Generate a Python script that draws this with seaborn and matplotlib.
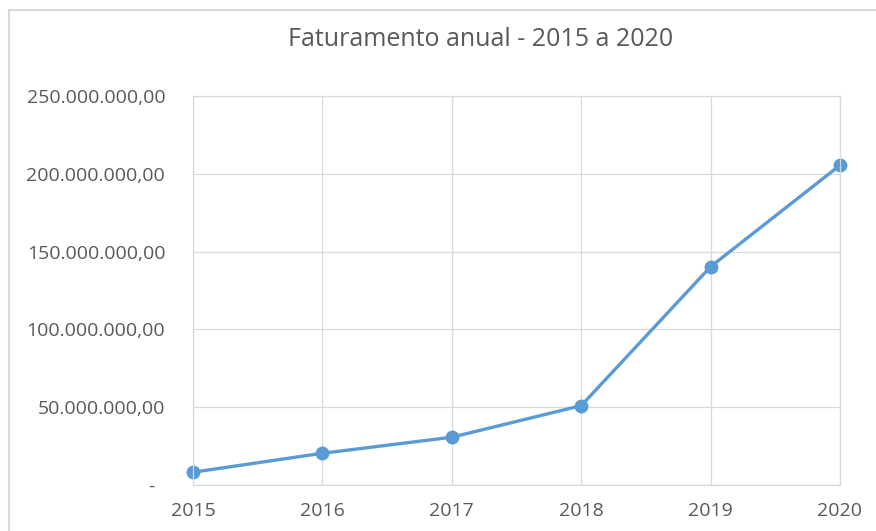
import seaborn as sns
import matplotlib.pyplot as plt
import pandas as pd
from matplotlib.patches import Rectangle
from matplotlib.ticker import FuncFormatter

# dados
anos = [2015, 2016, 2017, 2018, 2019, 2020]
faturamento = [8200000, 20400000, 30700000, 51000000, 140300000, 205500000]
y_ticks = [0, 50000000, 100000000, 150000000, 200000000, 250000000]

df = pd.DataFrame({'ano': anos, 'faturamento': faturamento})

sns.set_style('white')
plt.rcParams['font.family'] = ['Open Sans', 'DejaVu Sans']

cinza = '#595959'
grade = '#d9d9d9'
azul = '#5b9bd5'

fig = plt.figure(figsize=(8.76, 5.31), dpi=100)
ax = fig.add_axes([193 / 876, 1 - 485 / 531, (840 - 193) / 876, (485 - 96) / 531])

# moldura do grafico (estilo Excel)
fig.patches.append(Rectangle((9 / 876, -0.2), 1.2, 1.2 - 10 / 531,
                             transform=fig.transFigure, fill=False,
                             edgecolor=grade, linewidth=1.5))

sns.lineplot(data=df, x='ano', y='faturamento', ax=ax, color=azul,
             linewidth=2.4, marker='o', markersize=10,
             markeredgewidth=0, clip_on=False)


def fmt_brl(v, pos):
    if v == 0:
        return '-  '
    s = f'{v:,.2f}'
    return s.replace(',', 'X').replace('.', ',').replace('X', '.')


ax.set_xlim(2015, 2020)
ax.set_ylim(0, 250000000)
ax.set_xticks(anos)
ax.set_yticks(y_ticks)
ax.yaxis.set_major_formatter(FuncFormatter(fmt_brl))
ax.grid(True, color=grade, linewidth=0.9)
ax.set_axisbelow(True)
for sp in ax.spines.values():
    sp.set_color(grade)
    sp.set_linewidth(0.9)
ax.tick_params(axis='both', length=0, labelsize=14, labelcolor=cinza)
ax.tick_params(axis='y', pad=20)
ax.tick_params(axis='x', pad=12)
ax.set_xlabel('')
ax.set_ylabel('')

fig.text(481 / 876, 1 - 40 / 531, 'Faturamento anual - 2015 a 2020',
         ha='center', va='center', fontsize=18, color=cinza)

fig.savefig('out.png', dpi=100)
